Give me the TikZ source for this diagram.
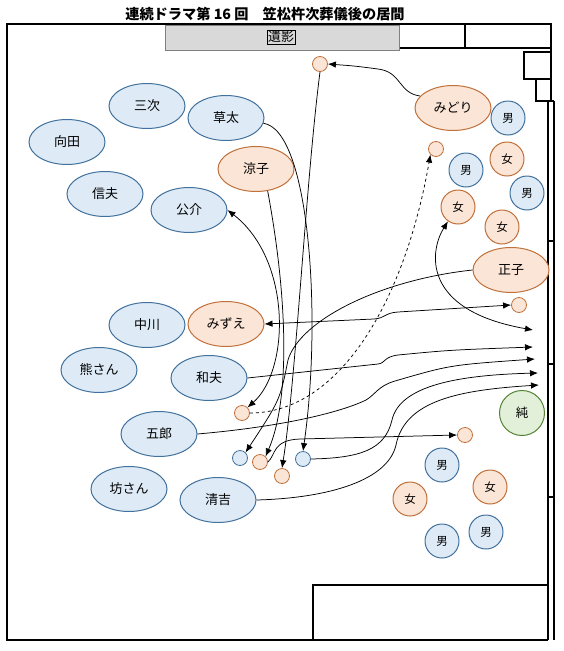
\documentclass[tikz,border=0pt]{standalone}
\usepackage{fontspec}
\setmainfont{Noto Sans CJK JP}
\usetikzlibrary{shapes.geometric,arrows.meta}
\definecolor{bfill}{HTML}{DEEBF7}
\definecolor{bline}{HTML}{41719C}
\definecolor{ofill}{HTML}{FBE5D6}
\definecolor{oline}{HTML}{C0703A}
\definecolor{gfill}{HTML}{E2F0D9}
\definecolor{gline}{HTML}{548235}
\definecolor{grayfill}{HTML}{D9D9D9}
\begin{document}
\begin{tikzpicture}[x=1pt,y=-1pt,
  every node/.style={inner sep=0pt},
  lbl/.style={font=\fontsize{13}{15}\selectfont},
  bel/.style={lbl,ellipse,draw=bline,fill=bfill,line width=1pt,minimum width=76pt,minimum height=45pt},
  oel/.style={bel,draw=oline,fill=ofill},
  bc/.style={circle,draw=bline,fill=bfill,line width=1pt,minimum size=34pt,font=\fontsize{11.5}{13}\selectfont},
  oc/.style={bc,draw=oline,fill=ofill},
  gc/.style={bc,draw=gline,fill=gfill,minimum size=45pt,font=\fontsize{12.5}{14}\selectfont},
  bs/.style={circle,draw=bline,fill=bfill,line width=0.8pt,minimum size=15pt},
  os/.style={bs,draw=oline,fill=ofill},
  wall/.style={line width=1.3pt},
  arr/.style={line width=0.75pt,-{Latex[length=8pt,width=6.5pt]}},
  darr/.style={line width=0.75pt,{Latex[length=8pt,width=6.5pt]}-{Latex[length=8pt,width=6.5pt]}},
]
\useasboundingbox (0,0) rectangle (563,651);
% title
\node[font=\bfseries\fontsize{14.2}{16}\selectfont] (title) at (265,14) {連続ドラマ第 16 回　笠松杵次葬儀後の居間};
% walls
\draw[wall] (551,101) -- (551,24) -- (7,24) -- (7,640) -- (548,640);
\draw[wall] (399,24) -- (399,48) -- (551,48);
\draw[wall] (465,24) -- (465,48);
\draw[wall] (551,52) -- (524,52) -- (524,79) -- (551,79);
\draw[wall] (536,79) -- (536,101) -- (554,101);
\draw[wall] (548,101) -- (548,640);
\draw[wall] (554,101) -- (554,640);
\draw[wall] (313,640) -- (313,585) -- (548,585);
\foreach \yy in {241,364,497} \draw[wall] (548,\yy) -- (554,\yy);
% altar
\node[draw=gray,fill=grayfill,line width=1pt,minimum width=234pt,minimum height=25pt] (altar) at (282,37.5) {};
\node[draw,line width=0.6pt,inner sep=1pt,lbl] (iei) at (281,37) {遺影};
% people ellipses
\node[bel] (sanji) at (147,106) {三次};
\node[bel] (mukoda) at (67,142) {向田};
\node[bel] (sota) at (226,118) {草太};
\node[bel] (nobuo) at (105,194) {信夫};
\node[bel] (kosuke) at (189,210) {公介};
\node[oel] (ryoko) at (256,169) {涼子};
\node[oel] (midori) at (453,108) {みどり};
\node[oel] (masako) at (511,270) {正子};
\node[bel] (nakagawa) at (147,325) {中川};
\node[oel] (mizue) at (226,324) {みずえ};
\node[bel] (kuma) at (99,370) {熊さん};
\node[bel] (kazuo) at (209,378) {和夫};
\node[bel] (goro) at (159,434) {五郎};
\node[bel] (bo) at (129,489) {坊さん};
\node[bel] (seikichi) at (218,500) {清吉};
% circles
\node[bc] (m1) at (508,118) {男};
\node[oc] (f1) at (507,159) {女};
\node[bc] (m2) at (466,170) {男};
\node[bc] (m3) at (527,193) {男};
\node[oc] (f2) at (458,207) {女};
\node[oc] (f3) at (502,227) {女};
\node[gc] (jun) at (522,413) {純};
\node[bc] (m4) at (442,465) {男};
\node[oc] (f4) at (490,487) {女};
\node[oc] (f5) at (410,499) {女};
\node[bc] (m5) at (486,532) {男};
\node[bc] (m6) at (442,541) {男};
% small circles
\node[os] (s1) at (320,64) {};
\node[os] (s2) at (436,149) {};
\node[os] (s3) at (519,305) {};
\node[os] (s4) at (465,435) {};
\node[os] (s5) at (242,413) {};
\node[bs] (s6) at (240,458) {};
\node[os] (s7) at (260,462) {};
\node[os] (s8) at (282,476) {};
\node[bs] (s9) at (303,459) {};
% free ends
\coordinate (e1) at (533,330);
\coordinate (e2) at (533,347);
\coordinate (e3) at (535,359);
\coordinate (e4) at (538,373);
\coordinate (e5) at (539,385);
% connectors
\draw[arr] (midori.160) .. controls (398,93) and (402,72) .. (378,69) .. controls (355,66) .. (s1.east);
\draw[arr] (s1.south) .. controls (306,180) and (296,380) .. (s8.north);
\draw[arr] (sota.-8) .. controls (310,130) and (322,320) .. (s9.north);
\draw[arr] (ryoko.-62) .. controls (288,300) and (290,400) .. (s7.north east);
\draw[darr] (s5.north east) .. controls (290,370) and (292,260) .. (kosuke.east);
\draw[arr] (masako.west) .. controls (380,280) and (300,320) .. (288,360) .. controls (280,400) .. (s6.north east);
\draw[dashed,arr] (s5.east) .. controls (340,413) and (405,300) .. (s2.south west);
\draw[darr] (mizue.east) -- (374,319) .. controls (386,318) and (384,313) .. (398,312) -- (s3.west);
\draw[darr] (f2.235) .. controls (430,250) and (420,310) .. (e1);
\draw[arr] (kazuo.east) -- (378,364) .. controls (386,363) and (383,357) .. (398,355) .. controls (450,350) .. (e2);
\draw[arr] (goro.east) .. controls (300,425) and (350,408) .. (366,400) .. controls (376,394) and (378,386) .. (395,381) .. controls (450,365) .. (e3);
\draw[arr] (s9.east) .. controls (360,458) and (385,450) .. (392,420) .. controls (400,385) and (460,375) .. (e4);
\draw[arr] (seikichi.east) .. controls (330,498) and (388,480) .. (396,445) .. controls (405,400) and (460,390) .. (e5);
\draw[arr] (s7.east) .. controls (276,455) and (272,440) .. (300,439) -- (s4.west);
\end{tikzpicture}
\end{document}
